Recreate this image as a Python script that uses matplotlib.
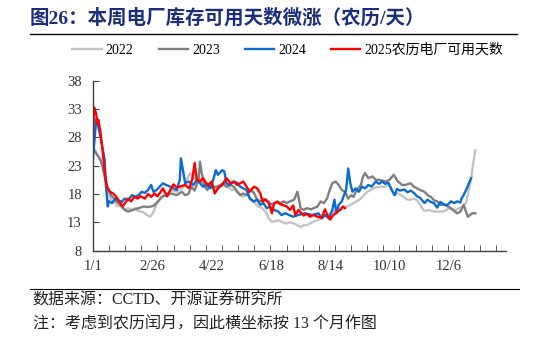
import numpy as np
import matplotlib
matplotlib.use("Agg")
import matplotlib.pyplot as plt
from matplotlib.lines import Line2D

SERIF_CJK = ["Liberation Serif", "Noto Sans CJK SC"]

# x axis: days from lunar 1/1 (13-month span)
tick_pos = [0, 56, 112, 168, 224, 280, 336]
tick_labels = ["1/1", "2/26", "4/22", "6/18", "8/14", "10/10", "12/6"]

days_2022 = [0, 2, 4, 7, 9, 11, 13, 15, 18, 21,
             23, 26, 28, 30, 33, 37, 40, 43, 46, 49,
             51, 54, 57, 60, 65, 70, 74, 79, 84, 87,
             90, 92, 95, 98, 101, 104, 108, 112, 115, 117,
             120, 123, 127, 131, 134, 137, 141, 144, 147, 150,
             153, 156, 159, 163, 166, 169, 172, 175, 178, 182,
             186, 190, 193, 196, 199, 202, 205, 208, 212, 215,
             218, 221, 224, 227, 230, 234, 237, 240, 243, 246,
             249, 253, 256, 259, 262, 265, 268, 272, 276, 279,
             282, 284, 287, 291, 294, 297, 300, 303, 306, 309,
             312, 314, 317, 320, 324, 327, 330, 333, 336, 339,
             343, 346, 349, 352, 354, 355, 357, 359, 361]
vals_2022 = [26.1, 25.8, 24.9, 24.3, 23.1, 21.7, 19.6, 17.8, 16.6, 16.4,
             15.8, 16.1, 15.5, 15.2, 15.5, 15.2, 15.5, 15.0, 14.9, 14.6,
             14.3, 14.0, 14.8, 16.2, 17.5, 18.1, 18.7, 18.4, 19.0, 19.6,
             21.1, 21.7, 20.6, 21.4, 20.5, 19.9, 19.9, 19.9, 19.0, 18.7,
             19.6, 19.6, 19.3, 18.7, 18.9, 18.4, 17.5, 17.8, 17.8, 16.7,
             16.4, 15.8, 15.6, 14.9, 13.7, 13.1, 13.2, 13.4, 13.1, 12.8,
             13.0, 12.8, 12.5, 12.2, 12.5, 12.5, 12.8, 13.1, 13.4, 13.7,
             14.0, 14.3, 14.6, 14.9, 15.2, 15.5, 15.7, 15.8, 16.1, 16.4,
             16.7, 17.2, 17.8, 18.4, 18.7, 19.0, 19.2, 19.3, 19.3, 19.6,
             19.0, 17.8, 18.2, 17.8, 17.4, 17.0, 17.0, 17.2, 16.9, 16.1,
             15.2, 15.0, 15.2, 15.0, 14.9, 14.9, 14.9, 15.1, 15.5, 15.3,
             15.2, 15.5, 15.8, 16.4, 17.8, 18.8, 20.5, 23.4, 25.7]

days_2023 = [0, 2, 4, 7, 9, 11, 14, 17, 21, 24,
             27, 30, 33, 38, 43, 48, 52, 57, 60, 65,
             70, 74, 79, 84, 87, 90, 93, 96, 100, 101,
             103, 105, 108, 111, 114, 117, 120, 123, 126, 130,
             133, 136, 139, 142, 145, 149, 152, 155, 158, 161,
             164, 167, 170, 174, 177, 180, 183, 186, 190, 193,
             194, 196, 199, 202, 206, 212, 215, 218, 221, 223,
             226, 229, 232, 235, 238, 241, 244, 246, 249, 253,
             255, 257, 260, 264, 267, 271, 276, 280, 284, 285,
             288, 292, 295, 300, 303, 306, 309, 313, 316, 319,
             322, 325, 328, 332, 335, 338, 341, 344, 347, 350,
             352, 354, 356, 358, 361]
vals_2023 = [25.8, 25.5, 24.9, 24.0, 22.8, 21.1, 19.0, 17.8, 16.9, 16.4,
             15.8, 15.2, 14.9, 15.2, 15.5, 15.8, 15.7, 15.9, 16.4, 17.5,
             17.8, 18.1, 17.8, 18.4, 17.8, 18.0, 19.3, 18.6, 20.8, 23.7,
             21.4, 19.5, 18.7, 19.6, 19.2, 19.3, 19.6, 19.9, 19.3, 19.6,
             19.3, 18.4, 17.8, 18.1, 17.8, 18.7, 18.2, 17.0, 16.7, 17.2,
             16.9, 16.4, 16.1, 16.7, 16.4, 16.7, 16.4, 16.7, 17.0, 18.4,
             17.6, 15.5, 15.2, 15.5, 15.3, 15.8, 16.7, 16.4, 17.2, 18.4,
             19.9, 20.2, 19.6, 18.7, 18.4, 17.2, 17.8, 17.5, 18.7, 19.6,
             21.1, 21.7, 20.8, 21.1, 20.5, 20.5, 20.2, 20.5, 21.4, 21.1,
             20.2, 19.6, 19.6, 19.9, 19.3, 19.0, 18.7, 18.4, 17.8, 17.5,
             16.9, 16.7, 16.1, 16.1, 15.8, 15.5, 15.0, 14.6, 14.9, 16.1,
             15.0, 14.0, 14.3, 14.6, 14.6]

days_2024 = [0, 3, 5, 8, 11, 12, 14, 15, 18, 21,
             24, 27, 30, 33, 37, 40, 43, 46, 49, 52,
             55, 57, 60, 63, 66, 69, 73, 76, 79, 82,
             83, 85, 87, 90, 93, 95, 98, 101, 104, 107,
             111, 114, 116, 118, 122, 124, 126, 129, 133, 136,
             139, 142, 145, 148, 152, 155, 158, 161, 164, 167,
             171, 175, 178, 182, 185, 189, 194, 200, 207, 213,
             216, 219, 223, 226, 228, 230, 232, 235, 237, 239,
             241, 243, 245, 248, 251, 254, 257, 260, 263, 267,
             270, 273, 276, 279, 282, 285, 287, 290, 294, 297,
             300, 303, 306, 309, 313, 316, 319, 322, 325, 328,
             332, 335, 338, 341, 344, 347, 348, 350, 353, 355,
             357]
vals_2024 = [24.3, 31.1, 29.9, 27.2, 24.0, 19.9, 15.8, 16.7, 16.4, 17.2,
             16.9, 16.6, 17.2, 16.9, 17.8, 17.5, 17.8, 18.4, 18.2, 18.7,
             19.6, 18.4, 18.7, 19.3, 19.9, 19.6, 19.3, 19.0, 18.7, 20.5,
             24.3, 22.2, 19.9, 20.2, 19.9, 19.6, 20.5, 19.9, 19.3, 19.6,
             19.0, 20.8, 22.2, 21.4, 22.2, 22.0, 19.9, 19.6, 20.2, 20.0,
             19.3, 19.0, 18.7, 17.2, 16.7, 17.0, 16.1, 16.4, 15.5, 15.8,
             15.2, 14.9, 14.3, 14.6, 14.3, 14.0, 14.3, 14.6, 14.3, 14.6,
             13.7, 14.3, 13.7, 15.2, 17.0, 14.6, 16.1, 16.7, 17.8, 18.7,
             22.5, 19.9, 18.4, 19.0, 18.4, 19.3, 19.0, 19.6, 19.3, 20.2,
             19.8, 20.2, 19.8, 20.0, 18.7, 17.8, 18.9, 18.6, 18.8, 18.3,
             18.6, 18.2, 17.6, 17.3, 16.4, 17.0, 16.6, 16.4, 15.6, 16.6,
             16.1, 16.1, 16.7, 16.4, 16.7, 16.5, 17.2, 17.8, 19.0, 19.9,
             20.8]

days_2025 = [0, 1, 3, 4, 5, 7, 9, 11, 13, 16,
             19, 22, 25, 28, 31, 33, 36, 39, 42, 45,
             49, 52, 55, 58, 61, 64, 66, 70, 73, 76,
             79, 82, 87, 91, 94, 96, 98, 101, 104, 107,
             109, 112, 115, 118, 122, 125, 126, 130, 133, 136,
             139, 142, 145, 148, 152, 155, 158, 160, 163, 166,
             169, 171, 174, 177, 180, 183, 186, 189, 191, 194,
             196, 199, 202, 205, 208, 212, 216, 219, 222, 224,
             227, 231, 234, 236, 238]
vals_2025 = [27.5, 33.3, 32.2, 30.5, 31.1, 29.0, 25.8, 22.2, 19.3, 18.4,
             18.1, 17.5, 16.6, 15.8, 16.6, 17.2, 16.7, 17.5, 17.2, 17.6,
             17.2, 18.0, 17.5, 18.1, 17.6, 18.4, 19.0, 17.6, 18.7, 19.7,
             19.2, 19.3, 19.6, 19.0, 20.8, 23.5, 20.5, 20.2, 20.8, 19.9,
             19.6, 20.2, 18.1, 19.0, 19.6, 20.5, 20.8, 19.9, 20.2, 19.6,
             19.9, 20.2, 19.3, 18.4, 19.3, 19.0, 18.1, 16.7, 17.0, 16.4,
             14.6, 16.4, 16.6, 16.2, 16.0, 15.8, 15.2, 16.0, 14.3, 15.2,
             14.8, 14.2, 14.5, 14.0, 14.3, 14.0, 13.8, 15.3, 14.0, 13.5,
             14.3, 14.9, 15.3, 15.8, 15.5]

series = [
    ("2022", days_2022, vals_2022, "#c3c3c3"),
    ("2023", days_2023, vals_2023, "#7f7f7f"),
    ("2024", days_2024, vals_2024, "#0a6bd1"),
    ("2025农历电厂可用天数", days_2025, vals_2025, "#ff0000"),
]

fig = plt.figure(figsize=(5.46, 3.39), dpi=100)
ax = fig.add_axes([0.1703, 0.2605, 0.7564, 0.5015])

for name, d, v, c in series:
    ax.plot(d, v, color=c, lw=1.7, label=name)

ax.set_xlim(0, 390)
ax.set_ylim(8, 38)
ax.set_yticks([8, 13, 18, 23, 28, 33, 38])
ax.set_xticks(tick_pos)
ax.set_xticklabels(tick_labels)
ax.set_xticks(np.arange(0, 390, 15.23), minor=True)

for s in ["top", "right"]:
    ax.spines[s].set_visible(False)
for s in ["left", "bottom"]:
    ax.spines[s].set_color("#404040")
    ax.spines[s].set_linewidth(1.0)

ax.tick_params(axis="y", direction="in", length=4, color="#404040",
               labelsize=10.5, labelcolor="#333333", pad=8)
ax.tick_params(axis="x", which="major", length=0, labelsize=10.5,
               labelcolor="#333333", pad=7)
ax.tick_params(axis="x", which="minor", direction="in", length=4, color="#404040")
for lab in ax.get_xticklabels() + ax.get_yticklabels():
    lab.set_family("Liberation Serif")

handles = [Line2D([], [], color=c, lw=1.7) for _, _, _, c in series]
fig.legend(handles, [s[0] for s in series], loc="center", ncol=4,
           bbox_to_anchor=(0.527, 0.852), frameon=False,
           prop={"family": SERIF_CJK, "size": 10},
           handlelength=2.1, handletextpad=0.3, columnspacing=1.8)

fig.text(0.055, 0.947, "图26：本周电厂库存可用天数微涨（农历/天）",
         family=SERIF_CJK, weight="bold", fontsize=14, color="#1c2d7c",
         va="center", ha="left")

fig.add_artist(Line2D([0.055, 0.947], [0.899, 0.899], color="black", lw=1.0))
fig.add_artist(Line2D([0.055, 0.95], [0.148, 0.148], color="black", lw=0.8))

fig.text(0.06, 0.113, "数据来源：CCTD、开源证券研究所", family=SERIF_CJK,
         fontsize=11.5, color="#222222", va="center", ha="left")
fig.text(0.06, 0.043, "注：考虑到农历闰月，因此横坐标按 13 个月作图", family=SERIF_CJK,
         fontsize=11.5, color="#222222", va="center", ha="left")

fig.savefig("out.png", dpi=100)
